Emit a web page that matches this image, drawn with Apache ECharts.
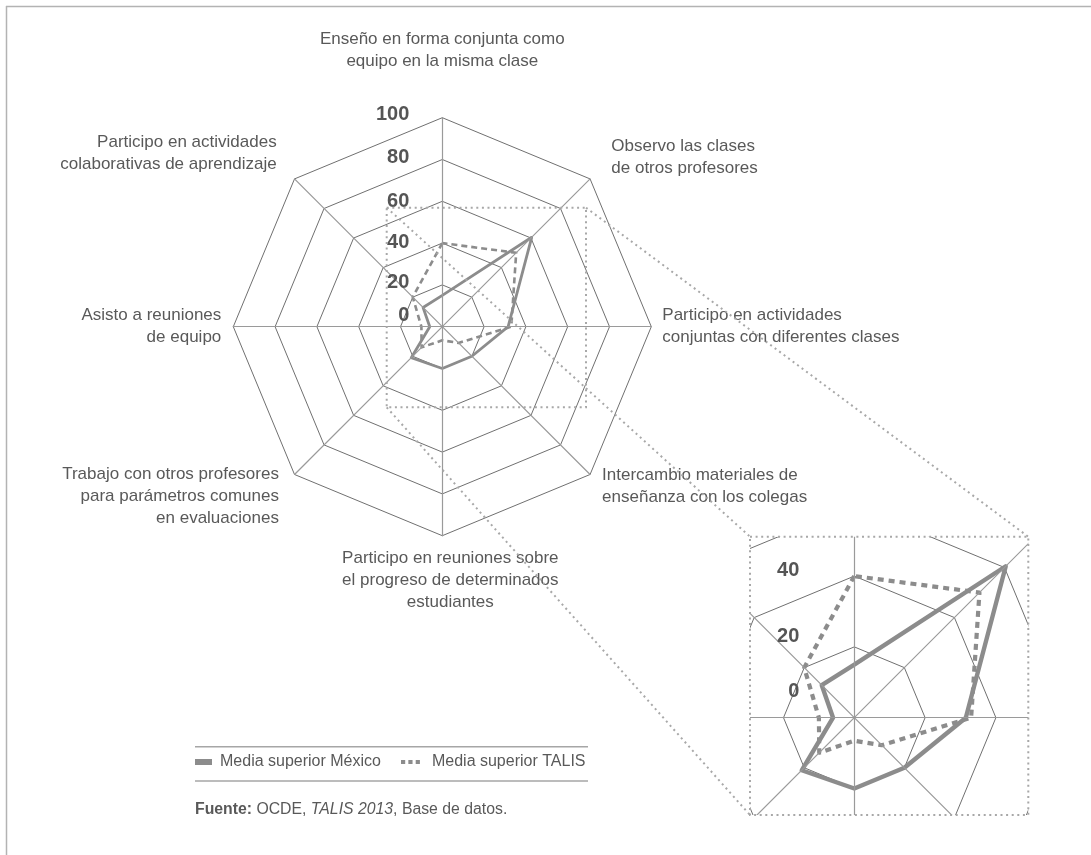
<!DOCTYPE html>
<html>
<head>
<meta charset="utf-8">
<title>Colaboración entre docentes</title>
<script src="https://cdn.jsdelivr.net/npm/echarts@6/dist/echarts.min.js"></script>
<style>
  html, body { margin: 0; padding: 0; background: #fff; }
  #charts { width: 1091px; height: 855px; }
</style>
</head>
<body>
<div id="charts"></div>
<script>
// indicators in the order echarts lays them out (counter-clockwise, starting at the top)
const indicators = [
  'Enseño en forma conjunta como\nequipo en la misma clase',
  'Participo en actividades\ncolaborativas de aprendizaje',
  'Asisto a reuniones\nde equipo',
  'Trabajo con otros profesores\npara parámetros comunes\nen evaluaciones',
  'Participo en reuniones sobre\nel progreso de determinados\nestudiantes',
  'Intercambio materiales de\nenseñanza con los colegas',
  'Participo en actividades\nconjuntas con diferentes clases',
  'Observo las clases\nde otros profesores'
]
const seriesNames = ['Media superior México', 'Media superior TALIS']
const mexico = [15, 13, 6, 21, 20, 20, 31.5, 60.5]
const talis = [40, 20, 10, 14, 6.5, 11, 33, 50]
const ticks = [0, 20, 40, 60, 80, 100]

const FONT = '"Liberation Sans", Arial, Helvetica, sans-serif'
const TEXT = '#595959'
const GREY = '#8c8c8c'
const DOTS = '#a8a8a8'

// where each indicator name sits relative to its axis end
// (an empty line before/after nudges a middle-aligned block up or down)
const namePlace = [
  { gap: 45, pad: [0, 0, 0, 0], before: '', after: '' },
  { gap: 21, pad: [0, 3, 0, 0], before: '', after: '\n' },
  { gap: 12, pad: [0, 0, 0, 0], before: '', after: '' },
  { gap: 15, pad: [0, 5, 0, 0], before: '\n', after: '' },
  { gap: 12, pad: [0, 0, 0, 16], before: '', after: '' },
  { gap: 17, pad: [0, 0, 0, 0], before: '', after: '' },
  { gap: 11, pad: [0, 0, 0, 0], before: '', after: '' },
  { gap: 30, pad: [0, 0, 0, 0], before: '', after: '' }
]
// how far each tick label is lifted above its ring (main / zoomed view)
const liftMain = { 0: 11, 20: 2, 40: 1, 60: 0, 80: 2, 100: 3 }
const liftZoom = { 0: 26, 20: 10, 40: 5.5, 60: 0, 80: 0, 100: 0 }

// dotted box on the radar, and the zoomed box it opens into
const srcBox = { x0: 386.7, y0: 207.7, x1: 586, y1: 407.3 }
const dstBox = { x0: 750, y0: 536.7, x1: 1028.3, y1: 815 }

function tickLabel(margin, lift) {
  let rich = {}
  ticks.forEach(t => {
    rich['s' + t] = {
      fontSize: 20, fontWeight: 'bold', color: '#555', fontFamily: FONT,
      padding: [0, 0, lift[t] * 2, 0]
    }
  })
  return {
    show: true,
    margin: margin,
    fontSize: 20,
    fontWeight: 'bold',
    color: '#555',
    fontFamily: FONT,
    formatter: v => '{s' + v + '|' + v + '}',
    rich: rich
  }
}

function buildRadar(center, radius, z, withNames, margin, lift) {
  return {
    center: center,
    radius: radius,
    startAngle: 90,
    shape: 'polygon',
    splitNumber: ticks.length - 1,
    z: z,
    axisName: { show: withNames, color: TEXT, fontSize: 17, lineHeight: 22, fontFamily: FONT },
    axisLine: { lineStyle: { color: '#9a9a9a', width: 1.2 } },
    axisTick: { show: false },
    axisLabel: { show: false },
    splitLine: { lineStyle: { color: '#707070', width: 1 } },
    splitArea: { show: false },
    indicator: indicators.map((name, i) => ({
      name: namePlace[i].before + name + namePlace[i].after,
      min: ticks[0],
      max: ticks[ticks.length - 1],
      nameGap: namePlace[i].gap,
      nameTextStyle: { padding: namePlace[i].pad },
      axisLabel: i === 0 ? tickLabel(margin, lift) : { show: false }
    }))
  }
}

function buildSeries(radarIndex, name, values, type, width, z) {
  return {
    type: 'radar',
    radarIndex: radarIndex,
    z: z,
    silent: true,
    symbol: 'none',
    lineStyle: { color: GREY, width: width, type: type, cap: 'butt' },
    itemStyle: { color: GREY },
    data: [{ name: name, value: values }]
  }
}

function line(x1, y1, x2, y2, style, z) {
  return { type: 'line', z: z, silent: true, shape: { x1, y1, x2, y2 }, style: style }
}

const dotted = { stroke: DOTS, lineWidth: 2, lineDash: [2, 3.6] }
const rule = { stroke: '#a6a6a6', lineWidth: 1.5 }

// white masks that crop the zoomed radar to its box (they overlap a little so no seams show)
const masks = [
  { x: 470, y: 330, width: 621, height: dstBox.y0 - 330 },
  { x: 470, y: dstBox.y0 - 2, width: dstBox.x0 - 470, height: 860 - dstBox.y0 },
  { x: dstBox.x1, y: dstBox.y0 - 2, width: 1091 - dstBox.x1, height: 860 - dstBox.y0 },
  { x: dstBox.x0 - 2, y: dstBox.y1, width: dstBox.x1 - dstBox.x0 + 4, height: 855 - dstBox.y1 }
].map(r => ({ type: 'rect', z: 5, silent: true, shape: r, style: { fill: '#fff' } }))

const graphics = masks.concat([
  // frame
  line(6, 6.5, 1091, 6.5, { stroke: '#b3b3b3', lineWidth: 1.5 }, 20),
  line(6.5, 6, 6.5, 855, { stroke: '#b3b3b3', lineWidth: 1.5 }, 20),
  // boxes and connectors
  { type: 'rect', z: 20, silent: true,
    shape: { x: srcBox.x0, y: srcBox.y0, width: srcBox.x1 - srcBox.x0, height: srcBox.y1 - srcBox.y0 },
    style: Object.assign({ fill: 'none' }, dotted) },
  { type: 'rect', z: 20, silent: true,
    shape: { x: dstBox.x0, y: dstBox.y0, width: dstBox.x1 - dstBox.x0, height: dstBox.y1 - dstBox.y0 },
    style: Object.assign({ fill: 'none' }, dotted) },
  line(srcBox.x0, srcBox.y0, dstBox.x0, dstBox.y0, dotted, 20),
  line(srcBox.x1, srcBox.y0, dstBox.x1, dstBox.y0, dotted, 20),
  line(srcBox.x0, srcBox.y1, dstBox.x0, dstBox.y1, dotted, 20),
  // legend rules
  line(195, 746.7, 588, 746.7, rule, 20),
  line(195, 781, 588, 781, rule, 20),
  // source
  {
    type: 'text', z: 20, silent: true, x: 195, y: 810,
    style: {
      text: '{b|Fuente:} OCDE, {i|TALIS 2013}, Base de datos.',
      fill: TEXT, fontSize: 15.8, fontFamily: FONT, verticalAlign: 'middle',
      rich: {
        b: { fontWeight: 'bold', fontSize: 15.8, fontFamily: FONT, fill: TEXT },
        i: { fontStyle: 'italic', fontSize: 15.8, fontFamily: FONT, fill: TEXT }
      }
    }
  }
])

const legendText = { color: TEXT, fontSize: 16, fontFamily: FONT }

const option = {
  backgroundColor: '#fff',
  animation: false,
  legend: [
    {
      data: [{ name: seriesNames[0], icon: 'rect', itemStyle: { color: GREY } }],
      left: 195, top: 754, padding: 0, z: 20,
      itemWidth: 17, itemHeight: 6, selectedMode: false,
      textStyle: Object.assign({ padding: [0, 0, 0, 3] }, legendText)
    },
    {
      data: [{ name: seriesNames[1], icon: 'path://M0,0h4v4h-4z M7,0h4v4h-4z M14,0h4v4h-4z', itemStyle: { color: GREY } }],
      left: 401, top: 754, padding: 0, z: 20,
      itemWidth: 19, itemHeight: 4.2, selectedMode: false,
      textStyle: Object.assign({ padding: [0, 0, 0, 7] }, legendText)
    }
  ],
  radar: [
    buildRadar([442.3, 326.7], 209, 10, true, 33, liftMain),
    buildRadar([854.3, 717.7], 354, 1, false, 55, liftZoom)
  ],
  series: [
    buildSeries(0, seriesNames[0], mexico, 'solid', 2.8, 10),
    buildSeries(0, seriesNames[1], talis, [6, 4], 2.6, 10),
    buildSeries(1, seriesNames[0], mexico, 'solid', 4.4, 1),
    buildSeries(1, seriesNames[1], talis, [6, 5], 4.2, 1)
  ],
  graphic: graphics
}

let chartsInstance = echarts.init(document.getElementById('charts'), null, { renderer: 'canvas' })
chartsInstance.setOption(option)
</script>
</body>
</html>
